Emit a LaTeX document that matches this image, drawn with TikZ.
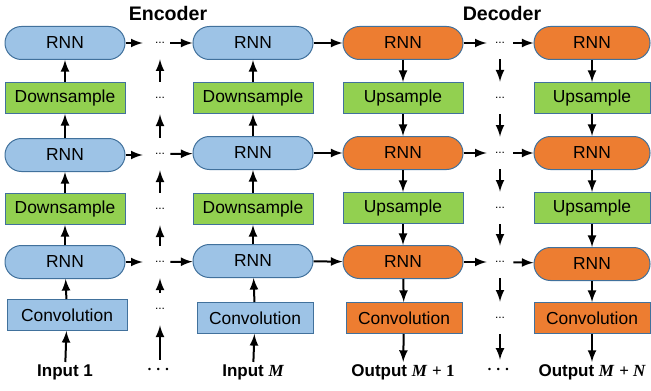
\documentclass[tikz,border=0pt]{standalone}
\usepackage{amsmath}
\usepackage{fontspec}
\setmainfont{Liberation Sans}
\newfontfamily\mfont{Liberation Serif}
\usetikzlibrary{arrows,positioning}
\definecolor{rnnblue}{HTML}{9DC3E6}
\definecolor{boxline}{HTML}{41719C}
\definecolor{sampgreen}{HTML}{92D050}
\definecolor{decorange}{HTML}{ED7D31}

\begin{document}
\begin{tikzpicture}[x=0.5pt,y=-0.5pt,
    rnn/.style={draw=boxline,line width=0.5pt,rounded corners=8.2pt,minimum width=60pt,minimum height=16.5pt,font=\fontsize{8.7}{10}\selectfont},
    blk/.style={draw=boxline,line width=0.5pt,minimum width=60pt,minimum height=15.5pt,font=\fontsize{8.7}{10}\selectfont},
    dots/.style={inner sep=0pt,minimum width=10pt,minimum height=8pt,font=\fontsize{6}{7}\selectfont},
    lbl/.style={inner sep=1pt,font=\fontsize{8.5}{10}\selectfont\bfseries},
    flow/.style={->,>=latex,line width=1pt},
    short/.style={flow,shorten <=4pt,shorten >=4pt}]
    \useasboundingbox (0,0) rectangle (651,390);

    \node[font=\fontsize{9.8}{11}\selectfont\bfseries] (enctitle) at (168,13) {Encoder};
    \node[font=\fontsize{9.8}{11}\selectfont\bfseries] (dectitle) at (502,13) {Decoder};

    % encoder, first input
    \node[rnn,fill=rnnblue] (rnna1) at (65,43) {RNN};
    \node[blk,fill=sampgreen] (downa1) at (65,98) {Downsample};
    \node[rnn,fill=rnnblue] (rnna2) at (65,155) {RNN};
    \node[blk,fill=sampgreen] (downa2) at (65,209) {Downsample};
    \node[rnn,fill=rnnblue] (rnna3) at (65,262) {RNN};
    \node[blk,fill=rnnblue] (conva) at (67,315) {Convolution};
    \node[lbl] (ina) at (65,372) {Input 1};

    % encoder, last input
    \node[rnn,fill=rnnblue] (rnnb1) at (253,43) {RNN};
    \node[blk,fill=sampgreen] (downb1) at (253,98) {Downsample};
    \node[rnn,fill=rnnblue] (rnnb2) at (253,153) {RNN};
    \node[blk,fill=sampgreen] (downb2) at (253,209) {Downsample};
    \node[rnn,fill=rnnblue] (rnnb3) at (253,261) {RNN};
    \node[blk,fill=rnnblue,minimum width=58pt] (convb) at (255,318) {Convolution};
    \node[lbl] (inb) at (253,372) {Input {\mfont\itshape M}};

    % decoder, first output
    \node[rnn,fill=decorange] (rnnc1) at (403,43) {RNN};
    \node[blk,fill=sampgreen] (upc1) at (403,98) {Upsample};
    \node[rnn,fill=decorange] (rnnc2) at (403,153) {RNN};
    \node[blk,fill=sampgreen] (upc2) at (403,208) {Upsample};
    \node[rnn,fill=decorange] (rnnc3) at (403,262) {RNN};
    \node[blk,fill=decorange,minimum width=58pt] (convc) at (404,318) {Convolution};
    \node[lbl] (outc) at (403,372) {Output {\mfont\itshape M\/} {\mfont+ 1}};

    % decoder, last output
    \node[rnn,fill=decorange,minimum width=58pt] (rnnd1) at (592,43) {RNN};
    \node[blk,fill=sampgreen,minimum width=58pt] (upd1) at (592,98) {Upsample};
    \node[rnn,fill=decorange,minimum width=58pt] (rnnd2) at (592,153) {RNN};
    \node[blk,fill=sampgreen,minimum width=58pt] (upd2) at (592,208) {Upsample};
    \node[rnn,fill=decorange,minimum width=58pt] (rnnd3) at (592,264) {RNN};
    \node[blk,fill=decorange,minimum width=58pt] (convd) at (592,318) {Convolution};
    \node[lbl] (outd) at (592,372) {Output {\mfont\itshape M\/} {\mfont+ \itshape N}};

    % dots between the columns
    \node[dots] (dotsa1) at (160,43) {...};
    \node[dots] (dotsa2) at (160,98) {...};
    \node[dots] (dotsa3) at (160,154) {...};
    \node[dots] (dotsa4) at (160,209) {...};
    \node[dots] (dotsa5) at (160,262) {...};
    \node[dots] (dotsa6) at (160,309) {...};
    \node[lbl] (dotsa7) at (160,370) {$\boldsymbol{\cdots}$};
    \node[dots] (dotsb1) at (500,43) {...};
    \node[dots] (dotsb2) at (500,98) {...};
    \node[dots] (dotsb3) at (500,153) {...};
    \node[dots] (dotsb4) at (500,208) {...};
    \node[dots] (dotsb5) at (500,262) {...};
    \node[dots] (dotsb6) at (500,318) {...};
    \node[lbl] (dotsb7) at (500,370) {$\boldsymbol{\cdots}$};

    % upward flow in the encoder
    \draw[flow] (ina) -- (conva);
    \draw[flow] (conva) -- (rnna3);
    \draw[flow] (rnna3) -- (downa2);
    \draw[flow] (downa2) -- (rnna2);
    \draw[flow] (rnna2) -- (downa1);
    \draw[flow] (downa1) -- (rnna1);
    \draw[flow] (inb) -- (convb);
    \draw[flow] (convb) -- (rnnb3);
    \draw[flow] (rnnb3) -- (downb2);
    \draw[flow] (downb2) -- (rnnb2);
    \draw[flow] (rnnb2) -- (downb1);
    \draw[flow] (downb1) -- (rnnb1);
    \draw[flow,shorten <=2pt,shorten >=4pt] (dotsa7) -- (dotsa6);
    \draw[short] (dotsa6) -- (dotsa5);
    \draw[short] (dotsa5) -- (dotsa4);
    \draw[short] (dotsa4) -- (dotsa3);
    \draw[short] (dotsa3) -- (dotsa2);
    \draw[short] (dotsa2) -- (dotsa1);

    % downward flow in the decoder
    \draw[flow] (rnnc1) -- (upc1);
    \draw[flow] (upc1) -- (rnnc2);
    \draw[flow] (rnnc2) -- (upc2);
    \draw[flow] (upc2) -- (rnnc3);
    \draw[flow] (rnnc3) -- (convc);
    \draw[flow] (convc) -- (outc);
    \draw[flow] (rnnd1) -- (upd1);
    \draw[flow] (upd1) -- (rnnd2);
    \draw[flow] (rnnd2) -- (upd2);
    \draw[flow] (upd2) -- (rnnd3);
    \draw[flow] (rnnd3) -- (convd);
    \draw[flow] (convd) -- (outd);
    \draw[short] (dotsb1) -- (dotsb2);
    \draw[short] (dotsb2) -- (dotsb3);
    \draw[short] (dotsb3) -- (dotsb4);
    \draw[short] (dotsb4) -- (dotsb5);
    \draw[short] (dotsb5) -- (dotsb6);
    \draw[flow,shorten <=4pt,shorten >=2pt] (dotsb6) -- (dotsb7);

    % across the time steps
    \draw[flow,shorten >=3.5pt] (rnna1) -- (dotsa1);
    \draw[flow,shorten >=3.5pt] (rnna2) -- (rnna2 -| dotsa2.west);
    \draw[flow,shorten >=3.5pt] (rnna3) -- (dotsa5);
    \draw[flow] (dotsa1) -- (rnnb1);
    \draw[flow] (dotsa3) -- (rnnb2);
    \draw[flow] (dotsa5) -- (rnnb3);
    \draw[flow] (rnnb1) -- (rnnc1);
    \draw[flow] (rnnb2) -- (rnnc2);
    \draw[flow] (rnnb3) -- (rnnc3);
    \draw[flow,shorten >=1.5pt] (rnnc1) -- (dotsb1);
    \draw[flow,shorten >=1.5pt] (rnnc2) -- (dotsb3);
    \draw[flow,shorten >=1.5pt] (rnnc3) -- (dotsb5);
    \draw[flow,shorten <=1.5pt] (dotsb1) -- (rnnd1);
    \draw[flow,shorten <=1.5pt] (dotsb3) -- (rnnd2);
    \draw[flow,shorten <=1.5pt] (dotsb5) -- (rnnd3);
  \end{tikzpicture}
\end{document}
